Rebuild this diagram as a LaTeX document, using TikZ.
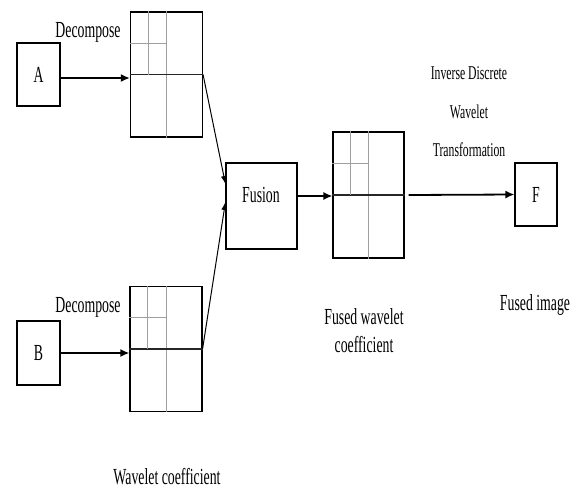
\documentclass[tikz,border=0pt]{standalone}
\usepackage{fontspec}
\setmainfont{Liberation Serif}[FakeStretch=0.6]
\usetikzlibrary{arrows.meta,calc}

\begin{document}
\begin{tikzpicture}[
  x=1pt, y=-1pt,
  font=\fontsize{23}{25}\selectfont,
  >={Latex[length=9pt,width=8pt]},
  box/.style={draw, line width=1.1pt, inner sep=0pt},
  grid/.style={draw, line width=1.1pt, inner sep=0pt, minimum width=72pt, minimum height=125pt},
  inner/.style={draw=gray!75, line width=0.9pt},
  midline/.style={draw=black!85, line width=1.1pt},
  thick arrow/.style={->, line width=2.2pt},
  thin arrow/.style={->, line width=1pt, >={Latex[length=8pt,width=6pt]}},
  lab/.style={align=center}
]
\path[use as bounding box] (0,0) rectangle (577,490);

% inputs and fusion stage
\node[box, minimum width=43pt, minimum height=63pt] (A) at (38.5,74.5) {A};
\node[box, minimum width=43pt, minimum height=64pt] (B) at (38.5,353) {B};
\node[grid] (gA) at (166.5,74.5) {};
\node[grid] (gB) at (166,349) {};
\node[box, minimum width=71pt, minimum height=86pt] (fus) at (261.5,206) {};
\node at (261,195) {Fusion};
\node[grid, minimum width=71pt, minimum height=126pt] (gC) at (368.5,195) {};
\node[box, minimum width=42pt, minimum height=63pt] (F) at (536,194.5) {F};

% two level wavelet split inside each grid
\foreach \g in {gA,gB,gC} {
  \draw[inner] (\g.north) -- (\g.south);
  \draw[midline] (\g.west) -- (\g.east);
  \draw[inner] ($(\g.north west)!0.5!(\g.north)$) -- ($(\g.west)!0.5!(\g.center)$);
  \draw[inner] ($(\g.north west)!0.5!(\g.west)$) -- ($(\g.north)!0.5!(\g.center)$);
}

% connectors
\coordinate (aOut) at ($(A.east)+(0,3.5)$);
\coordinate (fOut) at ($(fus.east)+(0,-10)$);
\coordinate (cOut) at ($(gC.east)+(4,0)$);
\draw[thick arrow] (aOut) -- (aOut -| gA.west);
\draw[thick arrow] (B.east) -- (B.east -| gB.west);
\draw[thin arrow] (gA.east) -- ($(fus.west)+(0,-22)$);
\draw[thin arrow] (gB.east) -- ($(fus.west)+(0,-4)$);
\draw[thick arrow, line width=1.6pt] (fOut) -- (fOut -| gC.west);
\draw[thick arrow, line width=1.8pt] (cOut) -- (F.west);

% labels
\node (decA) at (88,32) {Decompose};
\node (decB) at (88,307) {Decompose};
\node[lab, font=\fontsize{19.5}{38.5}\selectfont] (idwt) at (469,112) {Inverse Discrete\\Wavelet\\Transformation};
\node[lab, font=\fontsize{23}{28}\selectfont] (fwc) at (364,331) {Fused wavelet\\coefficient};
\node (fimg) at (535,305) {Fused image};
\node (wc) at (167,477) {Wavelet coefficient};
\end{tikzpicture}
\end{document}
